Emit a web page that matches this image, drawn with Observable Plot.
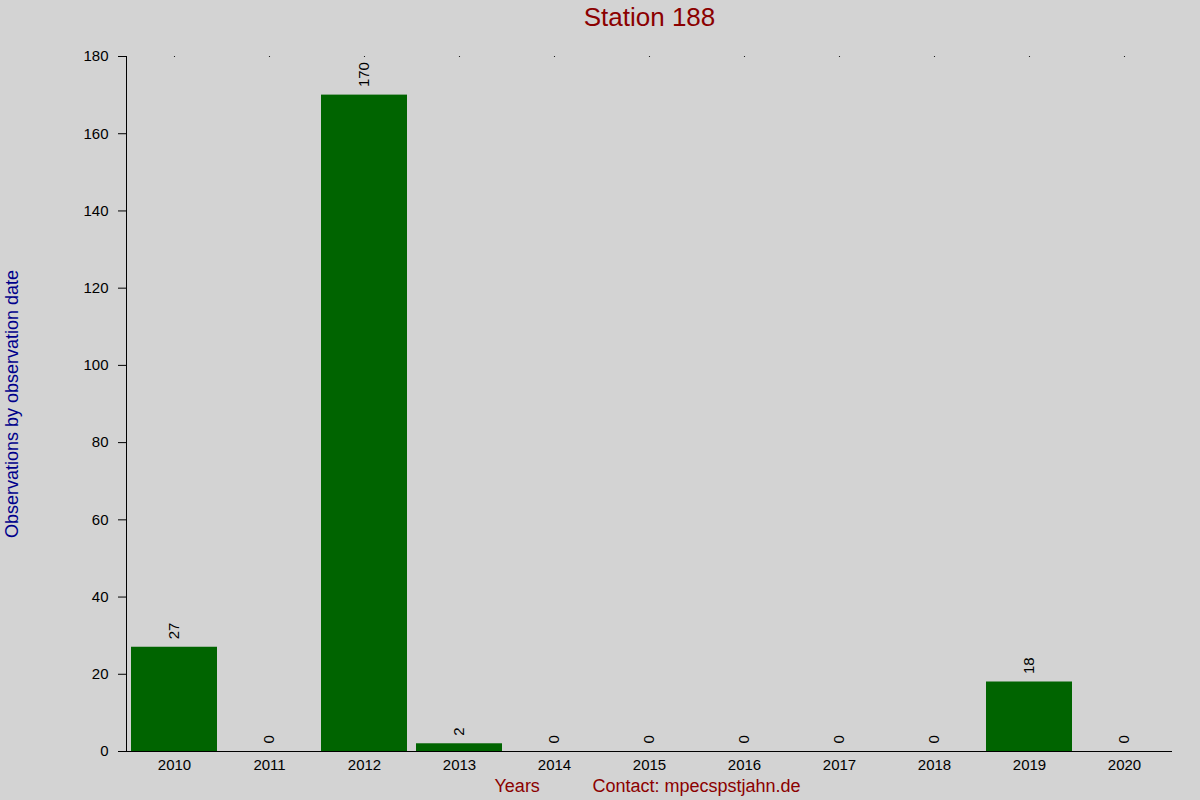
<!DOCTYPE html>
<html>
<head>
<meta charset="utf-8">
<script src="https://cdn.jsdelivr.net/npm/d3@7"></script>
<script src="https://cdn.jsdelivr.net/npm/@observablehq/plot@0.6"></script>
<style>
  html, body { margin: 0; padding: 0; background: #d3d3d3; }
  #chart svg { display: block; }
</style>
</head>
<body>
<div id="chart"></div>
<script>
const title = "Station 188";
const yLabel = "Observations by observation date";
const xLabel = "Years";
const contact = "Contact: mpecspstjahn.de";
const years = ["2010","2011","2012","2013","2014","2015","2016","2017","2018","2019","2020"];
const counts = [27, 0, 170, 2, 0, 0, 0, 0, 0, 18, 0];
const yTicks = [0, 20, 40, 60, 80, 100, 120, 140, 160, 180];

const data = years.map((y, i) => ({year: y, count: counts[i]}));

const chart = Plot.plot({
  width: 1200,
  height: 800,
  marginLeft: 126,
  marginRight: 28,
  marginTop: 56,
  marginBottom: 49,
  style: {background: "#d3d3d3", fontFamily: "'Liberation Sans', Arial, sans-serif", fontSize: "15px", color: "black"},
  x: {type: "band", domain: years, paddingInner: 0.095, paddingOuter: 0.05, label: null},
  y: {domain: [0, 180], label: null},
  marks: [
    Plot.barY(data, {x: "year", y: "count", fill: "#006400"}),
    Plot.frame({anchor: "left", stroke: "black"}),
    Plot.ruleY([0], {stroke: "black", insetLeft: -8}),
    Plot.axisY({ticks: yTicks, tickSize: 8, tickPadding: 10, label: null, fontSize: 15}),
    Plot.axisX({tickSize: 0, tickPadding: 8, label: null, fontSize: 15}),
    Plot.dot(years, {x: d => d, y: () => 180, r: 0.6, fill: "black", stroke: null}),
    Plot.text(data, {x: "year", y: "count", text: d => String(d.count), rotate: -90, textAnchor: "start", lineAnchor: "middle", dy: -8, fontSize: 15, fill: "black"}),
    Plot.text([title], {frameAnchor: "top", lineAnchor: "middle", textAnchor: "middle", dy: -39, fontSize: 26, fill: "#8b0000"}),
    Plot.text([yLabel], {frameAnchor: "left", rotate: -90, textAnchor: "middle", lineAnchor: "middle", dx: -114, fontSize: 18, fill: "#00008b"}),
    Plot.text([xLabel], {frameAnchor: "bottom", textAnchor: "start", lineAnchor: "middle", dx: -155, dy: 34.5, fontSize: 18, fill: "#8b0000"}),
    Plot.text([contact], {frameAnchor: "bottom", textAnchor: "start", lineAnchor: "middle", dx: -57, dy: 34.5, fontSize: 18, fill: "#8b0000"})
  ]
});
document.getElementById("chart").appendChild(chart);
</script>
</body>
</html>
